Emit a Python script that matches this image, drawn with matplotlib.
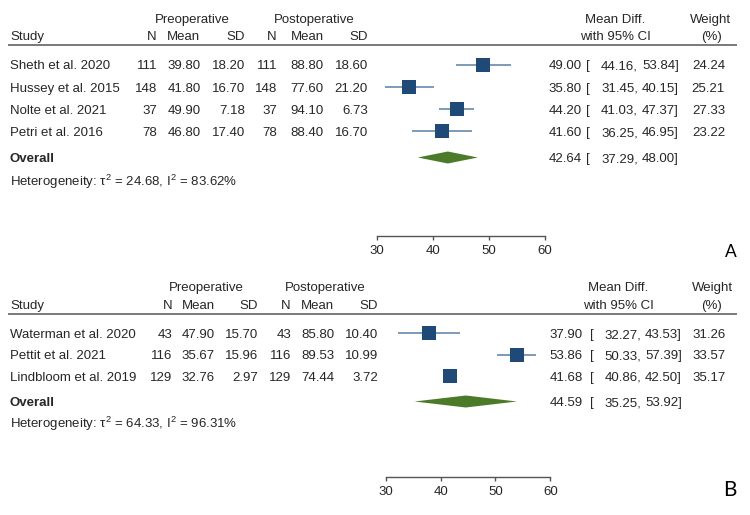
import matplotlib
matplotlib.use("Agg")
import matplotlib.pyplot as plt
import numpy as np

plt.rcParams['font.family'] = ['Liberation Sans', 'DejaVu Sans']
plt.rcParams['mathtext.fontset'] = 'custom'
plt.rcParams['mathtext.rm'] = 'Liberation Sans'
plt.rcParams['mathtext.it'] = 'Liberation Sans:italic'

# ---------------- data ----------------
# Panel A
a_studies = ["Sheth et al. 2020", "Hussey et al. 2015", "Nolte et al. 2021", "Petri et al. 2016"]
a_pre_n = [111, 148, 37, 78]
a_pre_mean = [39.80, 41.80, 49.90, 46.80]
a_pre_sd = [18.20, 16.70, 7.18, 17.40]
a_post_n = [111, 148, 37, 78]
a_post_mean = [88.80, 77.60, 94.10, 88.40]
a_post_sd = [18.60, 21.20, 6.73, 16.70]
a_md = [49.00, 35.80, 44.20, 41.60]
a_lo = [44.16, 31.45, 41.03, 36.25]
a_hi = [53.84, 40.15, 47.37, 46.95]
a_weight = [24.24, 25.21, 27.33, 23.22]
a_overall = (42.64, 37.29, 48.00)
a_tau2, a_i2 = 24.68, 83.62

# Panel B
b_studies = ["Waterman et al. 2020", "Pettit et al. 2021", "Lindbloom et al. 2019"]
b_pre_n = [43, 116, 129]
b_pre_mean = [47.90, 35.67, 32.76]
b_pre_sd = [15.70, 15.96, 2.97]
b_post_n = [43, 116, 129]
b_post_mean = [85.80, 89.53, 74.44]
b_post_sd = [10.40, 10.99, 3.72]
b_md = [37.90, 53.86, 41.68]
b_lo = [32.27, 50.33, 40.86]
b_hi = [43.53, 57.39, 42.50]
b_weight = [31.26, 33.57, 35.17]
b_overall = (44.59, 35.25, 53.92)
b_tau2, b_i2 = 64.33, 96.31

x_ticks = [30, 40, 50, 60]

# ---------------- style ----------------
W, H = 750, 515
TXT = '#262626'
SQ = '#1f4a77'
CI = '#6689ab'
DIA = '#4b7a29'
FS = 9.5
CAP = FS * 100 / 72 * 0.716 / 2  # half cap height in px

fig = plt.figure(figsize=(W / 100, H / 100), dpi=100)
fig.patch.set_facecolor('white')

ov = fig.add_axes([0, 0, 1, 1])
ov.set_xlim(0, W)
ov.set_ylim(H, 0)
ov.axis('off')
ov.patch.set_alpha(0)


def T(x, y, s, ha='left', **kw):
    ov.text(x, y + CAP, s, ha=ha, va='baseline', fontsize=FS, color=TXT, **kw)


def panel(layout, studies, pre_n, pre_mean, pre_sd, post_n, post_mean, post_sd,
          md, lo, hi, weight, overall, tau2, i2, label, label_size, label_xy):
    L = layout
    # --- header text ---
    T(L['pre_c'], L['h1'], "Preoperative", ha='center')
    T(L['post_c'], L['h1'], "Postoperative", ha='center')
    T(L['md_c'], L['h1'], "Mean Diff.", ha='center')
    T(L['w_c'], L['h1'], "Weight", ha='center')
    T(10, L['h2'], "Study")
    for key, t in zip(['n1', 'm1', 's1', 'n2', 'm2', 's2'], ['N', 'Mean', 'SD', 'N', 'Mean', 'SD']):
        T(L[key], L['h2'], t, ha='right')
    T(L['md_c'], L['h2'], "with 95% CI", ha='center')
    T(L['w_c'], L['h2'], "(%)", ha='center')
    ov.hlines(L['rule'], 8, 737, color='#555555', lw=1.1)

    rows = [L['r0'] + i * L['dr'] for i in range(len(studies))]
    for i, y in enumerate(rows):
        T(10, y, studies[i])
        vals = [f"{pre_n[i]}", f"{pre_mean[i]:.2f}", f"{pre_sd[i]:.2f}",
                f"{post_n[i]}", f"{post_mean[i]:.2f}", f"{post_sd[i]:.2f}"]
        for key, t in zip(['n1', 'm1', 's1', 'n2', 'm2', 's2'], vals):
            T(L[key], y, t, ha='right')
        T(L['e1'], y, f"{md[i]:.2f}", ha='right')
        T(L['br'], y, "[")
        T(L['e2'], y, f"{lo[i]:.2f},", ha='right')
        T(L['e3'], y, f"{hi[i]:.2f}]", ha='right')
        T(L['w_r'], y, f"{weight[i]:.2f}", ha='right')

    yo = L['ov']
    T(10, yo, "Overall", fontweight='bold')
    T(L['e1'], yo, f"{overall[0]:.2f}", ha='right')
    T(L['br'], yo, "[")
    T(L['e2'], yo, f"{overall[1]:.2f},", ha='right')
    T(L['e3'], yo, f"{overall[2]:.2f}]", ha='right')
    T(10, L['het'], f"Heterogeneity: τ$^{{2}}$ = {tau2:.2f}, I$^{{2}}$ = {i2:.2f}%")

    ov.text(label_xy[0], label_xy[1], label, ha='center', va='center',
            fontsize=label_size, color='black', family=['Lato', 'DejaVu Sans'])

    # --- forest axes ---
    x0, x1 = L['ax_x']
    top, bot = L['rule'], L['spine']
    ax = fig.add_axes([x0 / W, 1 - bot / H, (x1 - x0) / W, (bot - top) / H])
    ax.set_xlim(x_ticks[0], x_ticks[-1])
    ax.set_ylim(bot, top)
    ax.patch.set_alpha(0)
    for s in ['top', 'left', 'right']:
        ax.spines[s].set_visible(False)
    ax.spines['bottom'].set_bounds(x_ticks[0], x_ticks[-1])
    ax.spines['bottom'].set_color('#555555')
    ax.spines['bottom'].set_linewidth(1.0)
    ax.set_yticks([])
    ax.set_xticks(x_ticks)
    ax.tick_params(axis='x', direction='out', length=2.6, width=1.0, color='#555555',
                   labelsize=FS, labelcolor=TXT, pad=4.0)

    wmax = max(weight)
    for i, y in enumerate(rows):
        ax.hlines(y, lo[i], hi[i], color=CI, lw=1.2, zorder=2, clip_on=False)
        side_px = L['sq'] * np.sqrt(weight[i] / wmax)
        ax.plot([md[i]], [y], marker='s', ms=side_px * 0.72, color=SQ, mec=SQ, mew=0,
                zorder=3, clip_on=False)
    m, l, h = overall
    hh = 6.0
    ax.fill([l, m, h, m], [yo, yo - hh, yo, yo + hh], color=DIA, lw=0, zorder=3, clip_on=False)
    return ax


layout_a = dict(h1=18, h2=35.5, rule=45, r0=64.5, dr=22.3, ov=157.5, het=181.5,
                pre_c=192, post_c=314, n1=157, m1=200.5, s1=245, n2=277, m2=323.5, s2=368,
                md_c=615, w_c=711, e1=582, br=586, e2=638, e3=679, w_r=725,
                ax_x=(377, 545), spine=236, sq=14.5)
layout_b = dict(h1=286.7, h2=304.3, rule=314, r0=333.3, dr=21.4, ov=401.5, het=423.3,
                pre_c=206, post_c=325, n1=172, m1=215, s1=258, n2=291, m2=334, s2=378,
                md_c=618, w_c=712, e1=583, br=590, e2=641, e3=682, w_r=726,
                ax_x=(385.7, 550.3), spine=477.3, sq=14.0)

panel(layout_a, a_studies, a_pre_n, a_pre_mean, a_pre_sd, a_post_n, a_post_mean, a_post_sd,
      a_md, a_lo, a_hi, a_weight, a_overall, a_tau2, a_i2, "A", 12.5, (731, 252))
panel(layout_b, b_studies, b_pre_n, b_pre_mean, b_pre_sd, b_post_n, b_post_mean, b_post_sd,
      b_md, b_lo, b_hi, b_weight, b_overall, b_tau2, b_i2, "B", 15, (730, 490))

fig.savefig("out.png", dpi=100, facecolor='white')
